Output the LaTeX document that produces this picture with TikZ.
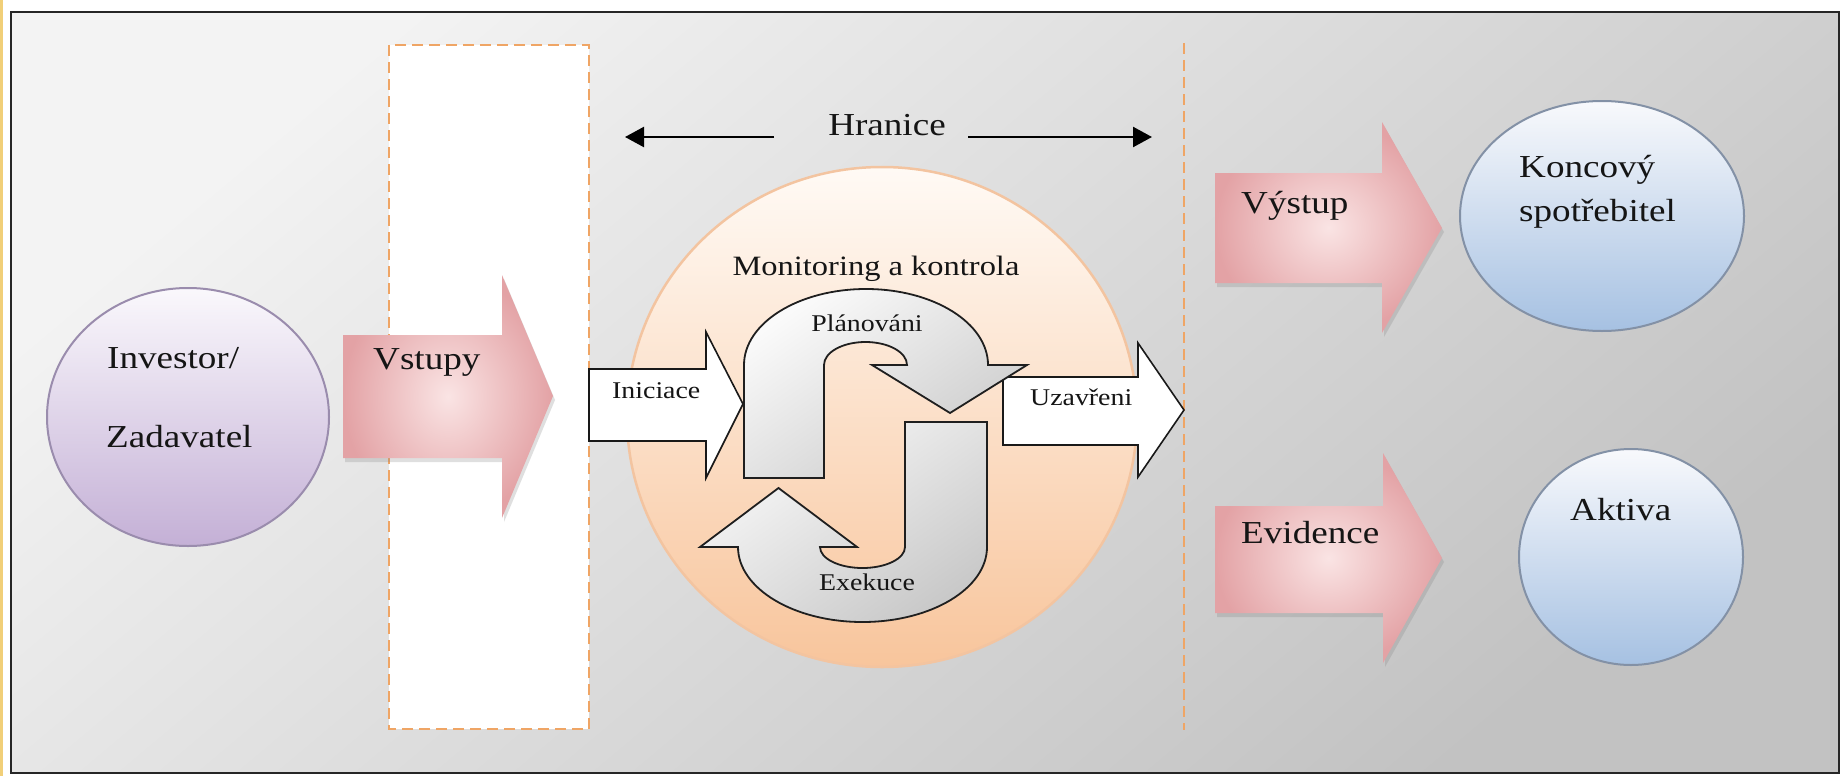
\documentclass[tikz,border=0pt]{standalone}
\usepackage{fontspec}
\setmainfont{Liberation Serif}[FakeStretch=1.16]
\usetikzlibrary{arrows.meta,shapes.geometric,shadows}
\definecolor{bgA}{HTML}{F3F3F3}
\definecolor{bgB}{HTML}{C2C2C2}
\definecolor{dashcol}{HTML}{EFA565}
\definecolor{strip}{HTML}{F1CF78}
\definecolor{peachA}{HTML}{FFFAF5}
\definecolor{peachB}{HTML}{F8C59C}
\definecolor{peachE}{HTML}{F3C4A0}
\definecolor{lavA}{HTML}{FAF8FC}
\definecolor{lavB}{HTML}{C4B0D6}
\definecolor{lavE}{HTML}{9A8CAD}
\definecolor{bluA}{HTML}{F8F9FC}
\definecolor{bluB}{HTML}{A6C1E2}
\definecolor{bluE}{HTML}{8391A6}
\definecolor{pinkA}{HTML}{FAE4E4}
\definecolor{pinkB}{HTML}{E3A2A5}
\definecolor{txt}{HTML}{151515}
\tikzset{
  bigfont/.style={font=\fontsize{32}{36}\selectfont, text=txt, inner sep=0pt},
  midfont/.style={font=\fontsize{28}{32}\selectfont, text=txt, inner sep=0pt},
  smallfont/.style={font=\fontsize{24}{28}\selectfont, text=txt, inner sep=0pt},
  pinkarrow/.style={shade, shading=radial, inner color=pinkA, outer color=pinkB,
     drop shadow={opacity=0.25, shadow xshift=2pt, shadow yshift=-4pt}},
  whitearrow/.style={fill=white, draw=black!90, line width=1.6pt, line join=miter},
  grayarrow/.style={shade, top color=gray!4, bottom color=gray!42, shading angle=35,
     draw=black!88, line width=1.8pt, line join=miter},
  dashline/.style={draw=dashcol, line width=2pt, dash pattern=on 11pt off 6pt},
  hrarrow/.style={line width=2.4pt, black, -{Triangle[length=19pt, width=20pt]}}
}
\begin{document}
\begin{tikzpicture}[x=1pt,y=-1pt]
\useasboundingbox (0,0) rectangle (1843,776);
\fill[white] (0,0) rectangle (1843,776);
% background frame
\shade[top color=bgA, bottom color=bgB, shading angle=40] (11,12) rectangle (1839,773);
\draw[line width=2.2pt, black!85] (11,12) rectangle (1839,773);
\fill[strip] (0,0) rectangle (3,776);

% left dashed box
\path[dashline, fill=white] (389,45) rectangle (589,729);
% right dashed boundary
\path[dashline] (1184,43) -- (1184,730);

% big circle
\shade[top color=peachA, bottom color=peachB] (882,417) ellipse (255 and 250);
\draw[peachE, line width=2.5pt] (882,417) ellipse (255 and 250);

% Investor circle
\shade[top color=lavA, bottom color=lavB] (188,417) ellipse (141 and 129);
\draw[lavE, line width=2pt] (188,417) ellipse (141 and 129);

% Vstupy arrow
\path[pinkarrow] (343,335) -- (502,335) -- (502,275) -- (553,396) -- (502,518) -- (502,458) -- (343,458) -- cycle;

% Iniciace arrow
\path[whitearrow] (589,369) -- (706,369) -- (706,332) -- (743,404) -- (706,478) -- (706,441) -- (589,441) -- cycle;
% Uzavreni arrow
\path[whitearrow] (1003,377) -- (1138,377) -- (1138,343) -- (1184,410) -- (1138,477) -- (1138,445) -- (1003,445) -- cycle;

% upper curved arrow (Planovani)
\path[grayarrow] (744,478) -- (744,365)
   arc[start angle=180, end angle=360, x radius=122, y radius=76]
   -- (1027,365) -- (950,413) -- (872,365) -- (907,365)
   arc[start angle=360, end angle=180, x radius=41.5, y radius=23]
   -- (824,478) -- cycle;
% lower curved arrow (Exekuce)
\path[grayarrow] (905,422) -- (987,422) -- (987,547)
   arc[start angle=0, end angle=180, x radius=124.5, y radius=75]
   -- (700,547) -- (778.5,488) -- (857,547) -- (820,547)
   arc[start angle=180, end angle=0, x radius=42.5, y radius=21]
   -- (905,422) -- cycle;

% Vystup and Evidence arrows
\path[pinkarrow] (1215,173) -- (1382,173) -- (1382,122) -- (1442,228) -- (1382,333) -- (1382,283) -- (1215,283) -- cycle;
\path[pinkarrow] (1215,506) -- (1383,506) -- (1383,453) -- (1442,558) -- (1383,663) -- (1383,613) -- (1215,613) -- cycle;

% blue circles
\shade[top color=bluA, bottom color=bluB] (1602,216) ellipse (142 and 115);
\draw[bluE, line width=2pt] (1602,216) ellipse (142 and 115);
\shade[top color=bluA, bottom color=bluB] (1631,557) ellipse (112 and 108);
\draw[bluE, line width=2pt] (1631,557) ellipse (112 and 108);

% texts
\node[bigfont, anchor=base west] (inv1) at (107,368) {Investor/};
\node[bigfont, anchor=base west] (inv2) at (106,447) {Zadavatel};
\node[bigfont, anchor=base west] (vst) at (373,369) {Vstupy};
\node[bigfont, anchor=base] (hr) at (887,135) {Hranice};
\node[midfont, anchor=base] (mon) at (876,275) {Monitoring a kontrola};
\node[smallfont, anchor=base west] (ini) at (612,398) {Iniciace};
\node[smallfont, anchor=base] (pla) at (867,331) {Plánováni};
\node[smallfont, anchor=base] (exe) at (867,590) {Exekuce};
\node[smallfont, anchor=base west] (uza) at (1030,405) {Uzavřeni};
\node[bigfont, anchor=base west] (vys) at (1241,213) {Výstup};
\node[bigfont, anchor=base west] (evi) at (1241,543) {Evidence};
\node[bigfont, anchor=base west] (kon) at (1519,177) {Koncový};
\node[bigfont, anchor=base west] (spo) at (1519,221) {spotřebitel};
\node[bigfont, anchor=base west] (akt) at (1570,520) {Aktiva};

% Hranice arrows
\coordinate (hls) at (774,137);
\coordinate (hle) at (625,137);
\coordinate (hrs) at (968,137);
\coordinate (hre) at (1152,137);
\draw[hrarrow] (hls) -- (hle);
\draw[hrarrow] (hrs) -- (hre);
\end{tikzpicture}
\end{document}
